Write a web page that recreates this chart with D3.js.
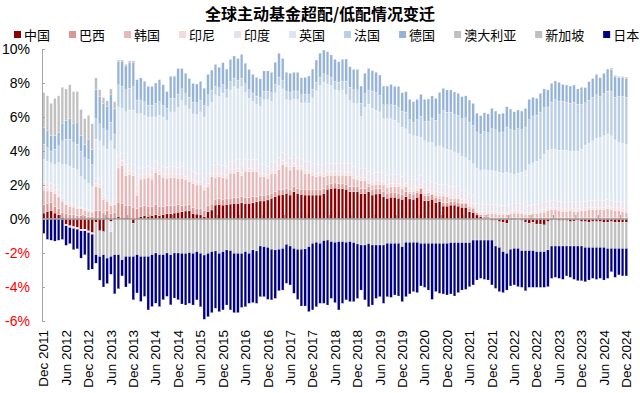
<!doctype html>
<html>
<head>
<meta charset="UTF-8">
<title>全球主动基金超配/低配情况变迁</title>
<script src="https://cdn.jsdelivr.net/npm/d3@7"></script>
<style>
  body { margin: 0; background: #fff; }
  svg { display: block; font-family: "Liberation Sans", Arial, sans-serif; }
</style>
</head>
<body>
<script>
// 月度数据 2011-12 ~ 2024-12，单位 %（每行一年）
var countries = ["中国", "巴西", "韩国", "印尼", "印度", "英国", "法国", "德国", "澳大利亚", "新加坡", "日本"];
var colors = ["#8b0000", "#d99694", "#e6b9b8", "#f2dcdb", "#e6e0ec", "#dce6f2", "#b9cde5", "#95b3d7", "#c0c0c0", "#bfbfbf", "#000080"];
var yTicks = [-6, -4, -2, 0, 2, 4, 6, 8, 10];
var tickLabels = ["Dec 2011", "Jun 2012", "Dec 2012", "Jun 2013", "Dec 2013", "Jun 2014", "Dec 2014",
  "Jun 2015", "Dec 2015", "Jun 2016", "Dec 2016", "Jun 2017", "Dec 2017", "Jun 2018", "Dec 2018",
  "Jun 2019", "Dec 2019", "Jun 2020", "Dec 2020", "Jun 2021", "Dec 2021", "Jun 2022", "Dec 2022",
  "Jun 2023", "Dec 2023", "Jun 2024", "Dec 2024"];

var china = [0.35,
  0.45, 0.5, 0.35, 0.25, 0.1, -0.3, -0.4, -0.45, -0.5, -0.6, -0.6, -0.7,
  -0.8, -0.2, -0.7, -0.75, 0.1, -0.15, 0.1, 0.15, 0.1, 0.1, 0.1, -0.25,
  0.1, 0.15, 0.2, 0.15, 0.2, 0.25, 0.2, 0.25, 0.3, 0.3, 0.35, 0.4,
  0.43, 0.47, 0.49, 0.33, 0.29, 0.24, 0.14, 0.43, 0.53, 0.82, 0.86, 0.82,
  0.86, 0.88, 0.92, 0.92, 0.96, 0.92, 0.92, 0.96, 1.02, 1.06, 1.06, 1.12,
  1.22, 1.31, 1.41, 1.45, 1.51, 1.41, 1.61, 1.51, 1.45, 1.41, 1.41, 1.41,
  1.41, 1.41, 1.51, 1.75, 1.8, 1.82, 1.8, 1.78, 1.75, 1.6, 1.6, 1.6,
  1.5, 1.5, 1.6, 1.41, 1.47, 1.5, 1.31, 1.22, 1.28, 1.28, 1.22, 1.16,
  1.31, 1.18, 1.16, 1.28, 1.5, 1.08, 1.08, 1.16, 0.96, 1.02, 0.76, 0.76,
  0.82, 0.82, 0.76, 0.69, 0.69, 0.43, 0.39, 0.24, 0.14, 0.04, 0.02, -0.1,
  -0.1, -0.16, -0.2, -0.25, -0.06, -0.06, -0.02, -0.1, -0.2, -0.25, -0.2, -0.3,
  -0.3, -0.35, -0.16, -0.1, -0.06, -0.1, -0.1, -0.1, -0.16, -0.12, -0.1, -0.16,
  -0.16, -0.2, -0.16, -0.16, -0.16, -0.2, -0.2, -0.16, -0.2, -0.2, -0.2, -0.2];

var brazil = [0.5,
  0.45, 0.45, 0.4, 0.35, 0.3, 0.3, 0.25, 0.25, 0.2, 0.2, 0.2, 0.15,
  0.15, 0.5, 0.5, 0.4, 0.4, 0.3, 0.3, 0.8, 0.8, 0.7, 0.7, 0.7,
  0.5, 0.6, 0.6, 0.6, 0.55, 0.6, 0.55, 0.5, 0.5, 0.5, 0.45, 0.45,
  0.35, 0.35, 0.35, 0.35, 0.35, 0.35, 0.35, 0.35, 0.35, 0.35, 0.35, 0.35,
  0.35, 0.35, 0.35, 0.35, 0.35, 0.35, 0.35, 0.35, 0.3, 0.3, 0.3, 0.3,
  0.3, 0.3, 0.3, 0.3, 0.3, 0.3, 0.3, 0.3, 0.3, 0.3, 0.3, 0.3,
  0.3, 0.3, 0.3, 0.3, 0.3, 0.3, 0.3, 0.3, 0.3, 0.3, 0.3, 0.3,
  0.3, 0.3, 0.3, 0.3, 0.3, 0.3, 0.3, 0.3, 0.3, 0.3, 0.3, 0.3,
  0.3, 0.3, 0.3, 0.3, 0.3, 0.3, 0.3, 0.3, 0.3, 0.2, 0.2, 0.2,
  0.2, 0.2, 0.2, 0.2, 0.2, 0.2, 0.2, 0.12, 0.12, 0.12, 0.12, 0.1,
  0.1, 0.1, 0.1, 0.1, 0.1, 0.1, 0.1, 0.1, 0.1, 0.1, 0.1, 0.1,
  0.1, 0.1, 0.1, 0.1, 0.1, 0.1, 0.1, 0.1, 0.1, 0.1, 0.1, 0.1,
  0.1, 0.1, 0.1, 0.1, 0.1, 0.1, 0.1, 0.1, 0.1, 0.1, 0.1, 0.1];

var korea = [0.85,
  0.75, 0.65, 0.75, 0.7, 0.65, 0.55, 0.5, 0.45, 0.4, 0.4, 0.3, 0.3,
  0.25, 1.4, 1.35, 0.75, 0.55, 0.5, 0.45, 2.05, 2.25, 1.75, 1.8, 1.85,
  0.8, 1.6, 1.6, 1.7, 1.6, 1.9, 1.85, 1.7, 1.6, 1.65, 1.65, 1.55,
  1.62, 1.48, 1.36, 1.42, 1.36, 1.41, 1.21, 1.12, 1.62, 1.28, 1.29, 1.28,
  1.19, 1.47, 1.43, 1.51, 1.23, 1.53, 1.51, 1.49, 1.48, 1.13, 1.13, 0.98,
  1.16, 1.07, 1.21, 1.48, 1.26, 1.17, 1.16, 1.11, 1.13, 0.97, 0.97, 0.87,
  0.78, 0.82, 0.68, 0.53, 0.48, 0.46, 0.48, 0.5, 0.5, 0.65, 0.5, 0.4,
  0.45, 0.45, 0.2, 0.29, 0.28, 0.25, 0.39, 0.33, 0.32, 0.32, 0.38, 0.34,
  0.29, 0.12, 0.14, 0.07, 0.05, 0.12, 0.17, 0.04, 0.14, 0.13, 0.39, 0.34,
  0.2, 0.2, 0.24, 0.07, 0.07, 0.09, 0.11, 0.02, 0.02, 0.12, 0.16, 0.2,
  0.2, 0.15, 0.15, 0.15, 0.2, 0.25, 0.25, 0.2, 0.15, 0.15, 0.2, 0.2,
  0.25, 0.3, 0.4, 0.45, 0.45, 0.4, 0.35, 0.35, 0.4, 0.35, 0.35, 0.4,
  0.4, 0.45, 0.45, 0.45, 0.45, 0.45, 0.5, 0.45, 0.4, 0.4, 0.35, 0.3];

var indonesia = [0.2,
  0.2, 0.2, 0.2, 0.15, 0.15, 0.15, 0.15, 0.15, 0.15, 0.1, 0.1, 0.1,
  0.1, 0.2, 0.2, 0.15, 0.15, 0.1, 0.15, 0.3, 0.3, 0.25, 0.25, 0.25,
  0.2, 0.25, 0.25, 0.25, 0.25, 0.25, 0.25, 0.25, 0.25, 0.25, 0.25, 0.25,
  0.2, 0.2, 0.2, 0.2, 0.2, 0.2, 0.2, 0.2, 0.2, 0.2, 0.2, 0.2,
  0.2, 0.2, 0.2, 0.2, 0.2, 0.2, 0.2, 0.2, 0.2, 0.2, 0.2, 0.2,
  0.2, 0.2, 0.2, 0.2, 0.2, 0.2, 0.2, 0.2, 0.2, 0.2, 0.2, 0.2,
  0.2, 0.2, 0.2, 0.2, 0.2, 0.2, 0.2, 0.2, 0.2, 0.2, 0.2, 0.2,
  0.2, 0.2, 0.2, 0.2, 0.2, 0.2, 0.2, 0.2, 0.2, 0.2, 0.2, 0.2,
  0.2, 0.2, 0.2, 0.2, 0.2, 0.2, 0.2, 0.2, 0.2, 0.2, 0.2, 0.2,
  0.2, 0.2, 0.2, 0.2, 0.2, 0.2, 0.2, 0.15, 0.15, 0.15, 0.15, 0.15,
  0.15, 0.15, 0.15, 0.15, 0.15, 0.15, 0.15, 0.15, 0.15, 0.15, 0.15, 0.15,
  0.15, 0.15, 0.15, 0.15, 0.15, 0.15, 0.15, 0.15, 0.15, 0.15, 0.15, 0.15,
  0.15, 0.15, 0.15, 0.15, 0.15, 0.15, 0.15, 0.15, 0.15, 0.15, 0.15, 0.15];

var india = [0.3,
  0.3, 0.3, 0.3, 0.3, 0.2, -0.1, -0.1, -0.1, -0.1, -0.1, -0.1, -0.1,
  -0.1, 0.3, 0.3, 0.2, 0.2, -0.6, 0.2, 0.4, 0.4, 0.4, 0.4, 0.4,
  0.4, 0.4, 0.4, 0.4, 0.4, 0.4, 0.4, 0.4, 0.4, 0.4, 0.4, 0.4,
  0.5, 0.5, 0.5, 0.5, 0.5, 0.5, 0.5, 0.5, 0.5, 0.5, 0.5, 0.5,
  0.5, 0.5, 0.5, 0.5, 0.5, 0.5, 0.5, 0.5, 0.5, 0.5, 0.5, 0.5,
  0.5, 0.5, 0.5, 0.5, 0.5, 0.5, 0.5, 0.5, 0.5, 0.5, 0.5, 0.5,
  0.5, 0.5, 0.5, 0.5, 0.5, 0.5, 0.5, 0.5, 0.5, 0.5, 0.5, 0.5,
  0.5, 0.5, 0.5, 0.5, 0.5, 0.5, 0.5, 0.5, 0.5, 0.5, 0.5, 0.5,
  0.5, 0.5, 0.5, 0.5, 0.5, 0.5, 0.5, 0.5, 0.5, 0.5, 0.5, 0.5,
  0.5, 0.5, 0.5, 0.5, 0.5, 0.5, 0.5, 0.4, 0.4, 0.4, 0.4, 0.4,
  0.4, 0.4, 0.4, 0.4, 0.4, 0.4, 0.4, 0.4, 0.4, 0.4, 0.4, 0.4,
  0.4, 0.4, 0.4, 0.4, 0.4, 0.4, 0.4, 0.4, 0.4, 0.4, 0.4, 0.4,
  0.4, 0.4, 0.4, 0.4, 0.4, 0.4, 0.4, 0.4, 0.4, 0.4, 0.4, 0.4];

var uk = [1.3,
  1.25, 1.2, 1.2, 1.55, 1.8, 2.2, 2.2, 2.15, 2.15, 1.8, 1.7, 1.55,
  1.4, 2.3, 2.25, 2.8, 2.7, 3.7, 2.9, 2.9, 2.65, 3.1, 3.15, 3.2,
  4.2, 3.2, 3.05, 2.9, 3.0, 2.6, 2.85, 2.9, 2.75, 3.2, 3.2, 3.5,
  3.86, 3.67, 3.57, 3.38, 3.44, 3.6, 3.59, 4.01, 3.66, 4.15, 4.02, 4.25,
  4.02, 4.19, 4.39, 4.17, 4.55, 3.96, 3.62, 3.41, 3.23, 3.45, 3.82, 3.91,
  3.55, 4.04, 4.23, 3.72, 3.26, 3.39, 3.26, 3.41, 3.23, 3.45, 3.43, 3.84,
  4.36, 4.62, 4.85, 4.66, 4.57, 4.31, 4.27, 4.31, 4.06, 3.71, 3.7, 3.8,
  3.07, 3.62, 3.96, 3.8, 3.65, 3.55, 3.2, 3.35, 3.3, 3.2, 3.05, 2.9,
  2.7, 2.7, 2.6, 2.5, 2.25, 2.4, 2.25, 2.3, 2.15, 2.25, 2.15, 2.1,
  2.13, 2.03, 1.95, 2.04, 1.94, 2.03, 1.85, 2.07, 2.02, 2.07, 2.0, 2.0,
  1.95, 1.95, 1.9, 1.95, 1.85, 1.75, 1.8, 1.9, 2.05, 2.4, 2.45, 2.55,
  2.6, 2.85, 3.0, 3.0, 3.0, 3.0, 3.05, 3.05, 2.95, 3.0, 3.0, 3.05,
  3.3, 3.35, 3.5, 3.65, 3.7, 3.8, 3.85, 3.8, 3.6, 3.45, 3.45, 3.45];

var france = [0.9,
  0.8, 0.7, 0.9, 1.0, 1.4, 1.5, 1.6, 1.5, 1.5, 1.5, 1.3, 1.4,
  1.3, 1.2, 1.0, 1.0, 1.1, 1.1, 0.9, 1.3, 1.3, 1.3, 1.3, 1.4,
  0.8, 0.8, 0.8, 0.7, 0.7, 0.8, 0.8, 0.7, 0.7, 0.8, 0.8, 0.8,
  0.7, 0.7, 0.7, 0.7, 0.7, 0.7, 0.7, 0.7, 0.7, 0.5, 0.5, 0.5,
  0.5, 0.5, 0.5, 0.5, 0.5, 0.5, 0.5, 0.5, 0.5, 0.5, 0.5, 0.5,
  0.5, 0.5, 0.5, 0.5, 0.5, 0.5, 0.5, 0.5, 0.5, 0.5, 0.5, 0.5,
  0.5, 0.5, 0.5, 0.5, 0.5, 0.5, 0.5, 0.5, 0.8, 0.8, 0.8, 0.8,
  0.8, 0.8, 0.8, 1.03, 1.03, 0.97, 0.82, 0.82, 0.82, 0.9, 0.95, 0.93,
  0.99, 0.84, 0.8, 0.99, 1.23, 1.14, 1.26, 1.44, 1.55, 1.85, 2.19, 2.19,
  2.24, 2.22, 2.24, 2.2, 2.35, 2.25, 2.25, 2.12, 2.13, 2.25, 2.23, 2.46,
  2.45, 2.33, 2.42, 2.66, 2.57, 2.56, 2.61, 2.5, 2.56, 2.64, 2.76, 2.7,
  2.79, 2.75, 2.54, 2.78, 2.92, 2.89, 2.87, 2.83, 2.82, 2.88, 2.75, 2.65,
  2.48, 2.53, 2.57, 2.56, 2.41, 2.47, 2.52, 2.6, 2.52, 2.71, 2.76, 2.77];

var germany = [1.0,
  1.0, 0.9, 0.8, 0.8, 1.0, 1.1, 1.2, 1.1, 1.3, 0.9, 0.8, 1.2,
  0.9, 1.7, 1.6, 1.5, 1.4, 1.6, 1.5, 1.35, 1.45, 1.4, 1.5, 1.4,
  1.2, 1.3, 1.2, 1.1, 1.1, 1.2, 1.3, 1.2, 1.0, 1.3, 1.3, 1.5,
  1.2, 1.2, 1.1, 1.1, 1.1, 1.1, 1.0, 1.2, 1.2, 1.3, 1.2, 1.3,
  1.2, 1.3, 1.3, 1.3, 1.4, 1.2, 1.2, 1.1, 1.1, 1.1, 1.2, 1.2,
  1.2, 1.3, 1.4, 1.3, 1.1, 1.1, 1.1, 1.1, 1.0, 1.0, 1.1, 1.2,
  1.3, 1.4, 1.4, 1.4, 1.3, 1.3, 1.2, 1.3, 1.3, 1.2, 1.2, 1.2,
  1.0, 1.2, 1.3, 1.2, 1.2, 1.2, 1.1, 1.1, 1.2, 1.1, 1.2, 1.1,
  1.2, 1.2, 1.2, 1.2, 1.3, 1.3, 1.3, 1.3, 1.3, 1.3, 1.3, 1.3,
  1.3, 1.3, 1.3, 1.3, 1.3, 1.3, 1.3, 1.1, 1.1, 1.1, 1.1, 1.2,
  1.1, 1.1, 1.1, 1.2, 1.2, 1.1, 1.1, 1.1, 1.1, 1.2, 1.1, 1.0,
  1.1, 1.1, 1.0, 1.1, 1.1, 1.1, 1.0, 1.0, 1.0, 1.0, 0.9, 1.0,
  0.9, 1.1, 1.1, 1.2, 1.1, 1.2, 1.3, 1.3, 1.2, 1.1, 1.1, 1.1];

var australia = [2.05,
  2.05, 1.9, 2.2, 2.15, 2.15, 1.85, 2.0, 1.9, 1.8, 1.55, 1.5, 1.4,
  1.5, -1.9, -1.5, -1.35, -2.3, -1.45, -2.1, -2.1, -2.4, -2.2, -2.2, -1.95,
  -2.1, -2.2, -2.2, -2.2, -2.1, -2.0, -2.1, -2.1, -2.0, -2.1, -2.0, -2.0,
  -2.02, -2.02, -1.98, -2.02, -1.92, -2.02, -2.12, -2.02, -1.92, -1.88, -2.02, -1.92,
  -1.82, -1.86, -2.02, -2.02, -2.02, -1.92, -2.02, -1.82, -1.88, -1.59, -1.63, -1.67,
  -1.78, -1.82, -1.78, -1.73, -1.49, -1.59, -1.73, -1.78, -1.78, -1.76, -1.63, -1.43,
  -1.37, -1.43, -1.27, -1.24, -1.33, -1.37, -1.33, -1.33, -1.37, -1.33, -1.39, -1.47,
  -1.53, -1.53, -1.45, -1.53, -1.53, -1.53, -1.53, -1.43, -1.43, -1.43, -1.43, -1.63,
  -1.37, -1.37, -1.37, -1.37, -1.43, -1.43, -1.43, -1.43, -1.43, -1.43, -1.43, -1.43,
  -1.39, -1.39, -1.39, -1.39, -1.39, -1.39, -1.24, -1.24, -1.24, -1.24, -1.24, -1.14,
  -1.49, -1.51, -1.72, -1.77, -1.72, -1.67, -1.71, -1.76, -1.66, -1.61, -1.66, -1.62,
  -1.62, -1.57, -1.66, -1.49, -1.53, -1.49, -1.49, -1.49, -1.43, -1.47, -1.49, -1.43,
  -1.51, -1.47, -1.51, -1.51, -1.51, -1.47, -1.53, -1.57, -1.53, -1.53, -1.53, -1.53];

var singapore = [0,
  0, 0, 0, 0, 0, 0, 0, 0, 0, 0, 0, 0,
  0, 0.7, 0.4, 0.35, 0.35, 0.35, 0.4, 0.1, 0.1, 0.1, 0.1, 0.1,
  0, 0, 0, 0, 0, 0, 0, 0, 0, 0, 0, 0,
  0, 0, 0, 0, 0, 0, 0, 0, 0, 0, 0, 0,
  0, 0, 0, 0, 0, 0, 0, 0, 0, 0, 0, 0,
  0, 0, 0, 0, 0, 0, 0, 0, 0, 0, 0, 0,
  0, 0, 0, 0, 0, 0, 0, 0, 0, 0, 0, 0,
  0, 0, 0, 0, 0, 0, 0, 0, 0, 0, 0, 0,
  0, 0, 0, 0, 0, 0, 0, 0, 0, 0, 0, 0,
  0, 0, 0, 0, 0, 0, 0, 0, 0, 0, 0, 0,
  0, 0, 0, 0, 0, 0, 0, 0, 0, 0, 0, 0,
  0, 0, 0, 0, 0, 0, 0, 0, 0, 0, 0, 0,
  0, 0, 0, 0, 0, 0, 0, 0.08, 0.08, 0.08, 0.08, 0.08];

var japan = [-0.85,
  -1.2, -1.25, -1.3, -1.25, -1.2, -1.15, -0.95, -1.25, -1.15, -1.6, -1.4, -2.2,
  -2.05, -0.5, -1.4, -1.9, -1.5, -1.05, -2.3, -2.0, -0.95, -1.8, -1.6, -2.55,
  -2.25, -2.65, -2.35, -3.15, -3.05, -2.95, -3.05, -2.65, -2.55, -2.95, -2.65, -2.75,
  -2.98, -3.04, -2.98, -3.04, -2.84, -3.14, -3.78, -3.73, -3.59, -3.37, -3.43, -3.43,
  -3.24, -3.49, -3.49, -3.49, -3.18, -3.24, -2.94, -3.1, -3.08, -2.98, -2.94, -3.06,
  -2.98, -2.85, -2.44, -2.45, -2.29, -2.29, -2.64, -2.95, -3.34, -3.36, -3.82, -3.92,
  -3.79, -3.53, -3.69, -3.82, -3.34, -3.55, -4.02, -3.63, -3.39, -3.53, -3.47, -3.2,
  -2.65, -3.23, -3.71, -3.53, -3.14, -3.04, -3.43, -3.14, -3.18, -3.04, -3.1, -3.23,
  -3.2, -3.04, -2.9, -2.96, -2.51, -2.59, -2.75, -3.3, -2.84, -2.94, -2.98, -3.04,
  -3.02, -3.14, -2.94, -2.79, -2.75, -2.59, -2.64, -2.35, -2.25, -2.31, -2.35, -2.64,
  -2.49, -2.6, -2.41, -2.16, -2.16, -2.15, -2.25, -2.16, -2.36, -2.16, -2.16, -2.1,
  -2.1, -2.1, -2.16, -1.9, -1.84, -1.9, -1.96, -1.76, -1.84, -1.96, -2.04, -2.04,
  -2.02, -1.92, -1.82, -1.88, -1.82, -1.92, -1.76, -1.37, -1.7, -1.56, -1.62, -1.62];

var series = [china, brazil, korea, indonesia, india, uk, france, germany, australia, singapore, japan];

var W = 640, H = 393;
var months = d3.timeMonth.range(new Date(2011, 11, 1), new Date(2025, 0, 1));
series.forEach(function (s, j) {
  if (s.length !== months.length) console.error(countries[j] + " length " + s.length);
});

var rows = months.map(function (m, i) {
  var r = { month: m, idx: i };
  countries.forEach(function (c, j) { r[c] = series[j][i]; });
  return r;
});

var stacked = d3.stack().keys(countries).offset(d3.stackOffsetDiverging)(rows);

var x = d3.scaleBand().domain(d3.range(months.length)).range([42, 628]).paddingInner(0.3).paddingOuter(0.1);
var y = d3.scaleLinear().domain([-6, 10]).range([321, 49]);

var svg = d3.select("body").append("svg").attr("width", W).attr("height", H);

// 标题
svg.append("text")
  .attr("x", 320).attr("y", 20)
  .attr("text-anchor", "middle")
  .style("font-family", "'Noto Sans CJK SC', sans-serif")
  .style("font-size", "16px").style("font-weight", "bold")
  .text("全球主动基金超配/低配情况变迁");

// 图例
var lx = 14;
countries.forEach(function (c, j) {
  var g = svg.append("g");
  g.append("rect").attr("x", lx).attr("y", 31).attr("width", 7).attr("height", 7).attr("fill", colors[j]);
  var t = g.append("text").attr("x", lx + 10).attr("y", 39.5)
    .style("font-family", "'Noto Sans CJK SC', sans-serif")
    .style("font-size", "13px").attr("fill", "#000").text(c);
  lx += 10 + t.node().getComputedTextLength() + 19;
});

// 柱子
svg.append("g").selectAll("g")
  .data(stacked).enter().append("g")
  .attr("fill", function (d, j) { return colors[j]; })
  .selectAll("rect")
  .data(function (d) { return d; })
  .enter().append("rect")
  .attr("x", function (d) { return x(d.data.idx); })
  .attr("width", x.bandwidth())
  .attr("y", function (d) { return y(Math.max(d[0], d[1])); })
  .attr("height", function (d) { return Math.abs(y(d[0]) - y(d[1])); })
  .attr("stroke", "#fff").attr("stroke-width", 0.25);

// 零线及刻度
svg.append("line")
  .attr("x1", 42).attr("x2", 628).attr("y1", y(0)).attr("y2", y(0))
  .attr("stroke", "#a0a0a0").attr("stroke-width", 1.3);
var step = x.step();
svg.append("g").selectAll("line")
  .data(d3.range(months.length).filter(function (i) { return i % 6 === 5; }))
  .enter().append("line")
  .attr("x1", function (i) { return x(i) - step * 0.15; })
  .attr("x2", function (i) { return x(i) - step * 0.15; })
  .attr("y1", y(0)).attr("y2", y(0) - 4)
  .attr("stroke", "#a0a0a0").attr("stroke-width", 1);

// Y 轴
var yAxis = svg.append("g").attr("transform", "translate(42,0)")
  .call(d3.axisLeft(y).tickValues(yTicks).tickSize(-3).tickPadding(12)
    .tickFormat(function (d) { return d + "%"; }));
yAxis.select(".domain").attr("stroke", "#a6a6a6");
yAxis.selectAll(".tick line").attr("stroke", "#a6a6a6");
yAxis.selectAll(".tick text")
  .style("font-family", "'Liberation Sans', Arial, sans-serif")
  .style("font-size", "14px")
  .attr("fill", function (d) { return d < 0 ? "#ff0000" : "#000"; });

// X 轴标签
var parseLabel = d3.timeParse("%b %Y");
svg.append("g").selectAll("text")
  .data(tickLabels).enter().append("text")
  .attr("transform", function (s) {
    var d = parseLabel(s);
    var i = d3.bisectLeft(months.map(Number), +d);
    return "translate(" + (x(i) + x.bandwidth() / 2) + ",330) rotate(-90)";
  })
  .attr("text-anchor", "end")
  .attr("dy", "0.35em")
  .style("font-size", "13.5px")
  .attr("fill", "#000")
  .text(function (s) { return s; });
</script>
</body>
</html>
